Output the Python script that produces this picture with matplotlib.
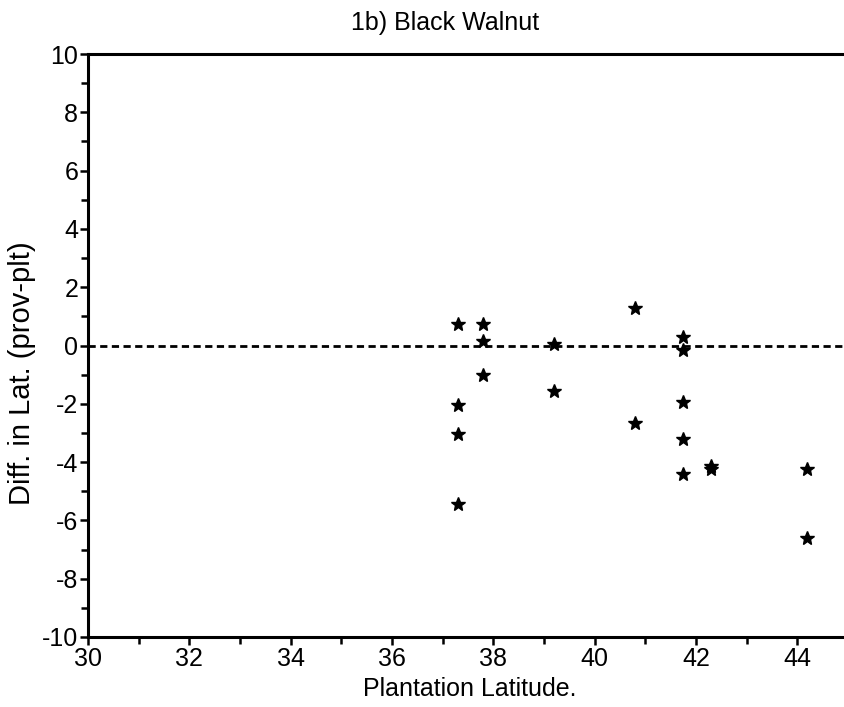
import matplotlib
matplotlib.use("Agg")
import matplotlib.pyplot as plt
from matplotlib.ticker import MultipleLocator

plt.rcParams['font.family'] = ['Liberation Sans', 'DejaVu Sans']
plt.rcParams['axes.unicode_minus'] = False

# Data
plantation_lat = [37.3, 37.3, 37.3, 37.3,
                  37.8, 37.8, 37.8,
                  39.2, 39.2,
                  40.8, 40.8,
                  41.75, 41.75, 41.75, 41.75, 41.75,
                  42.3, 42.3,
                  44.2, 44.2]
diff_lat = [0.75, -2.05, -3.05, -5.45,
            0.75, 0.15, -1.0,
            0.05, -1.55,
            1.3, -2.65,
            0.3, -0.15, -1.95, -3.2, -4.4,
            -4.15, -4.25,
            -4.25, -6.6]

title = "1b) Black Walnut"
xlabel = "Plantation Latitude."
ylabel = "Diff. in Lat. (prov-plt)"
xticks = [30, 32, 34, 36, 38, 40, 42, 44]
yticks = [-10, -8, -6, -4, -2, 0, 2, 4, 6, 8, 10]

fig = plt.figure(figsize=(8.45, 7.07), dpi=100)
ax = fig.add_axes([88/845, 1 - 637/707, 760/845, (637 - 54)/707])

ax.axhline(0, color='black', lw=2.0, linestyle=(0, (2.6, 1.6)), zorder=1)
ax.plot(plantation_lat, diff_lat, linestyle='none', marker='*', color='black',
        markersize=10, zorder=2)

ax.set_xlim(30, 45)
ax.set_ylim(-10, 10)
ax.set_xticks(xticks)
ax.set_yticks(yticks)
ax.xaxis.set_minor_locator(MultipleLocator(1))
ax.yaxis.set_minor_locator(MultipleLocator(1))

for s in ['left', 'bottom', 'top']:
    ax.spines[s].set_linewidth(2.2)
ax.spines['right'].set_visible(False)

ax.tick_params(axis='both', which='major', direction='out', length=6, width=1.8,
               labelsize=18, pad=1)
ax.tick_params(axis='both', which='minor', direction='out', length=5, width=1.8)
ax.tick_params(axis='x', which='both', top=False)
ax.tick_params(axis='y', which='both', right=False)

fig.text(445/845, 1 - 23/707, title, fontsize=18, ha='center', va='center')
fig.text(470/845, 1 - 689/707, xlabel, fontsize=18, ha='center', va='center')
fig.text(22/845, 1 - 373/707, ylabel, fontsize=21, rotation=90,
         ha='center', va='center')

fig.savefig("out.png", dpi=100)
